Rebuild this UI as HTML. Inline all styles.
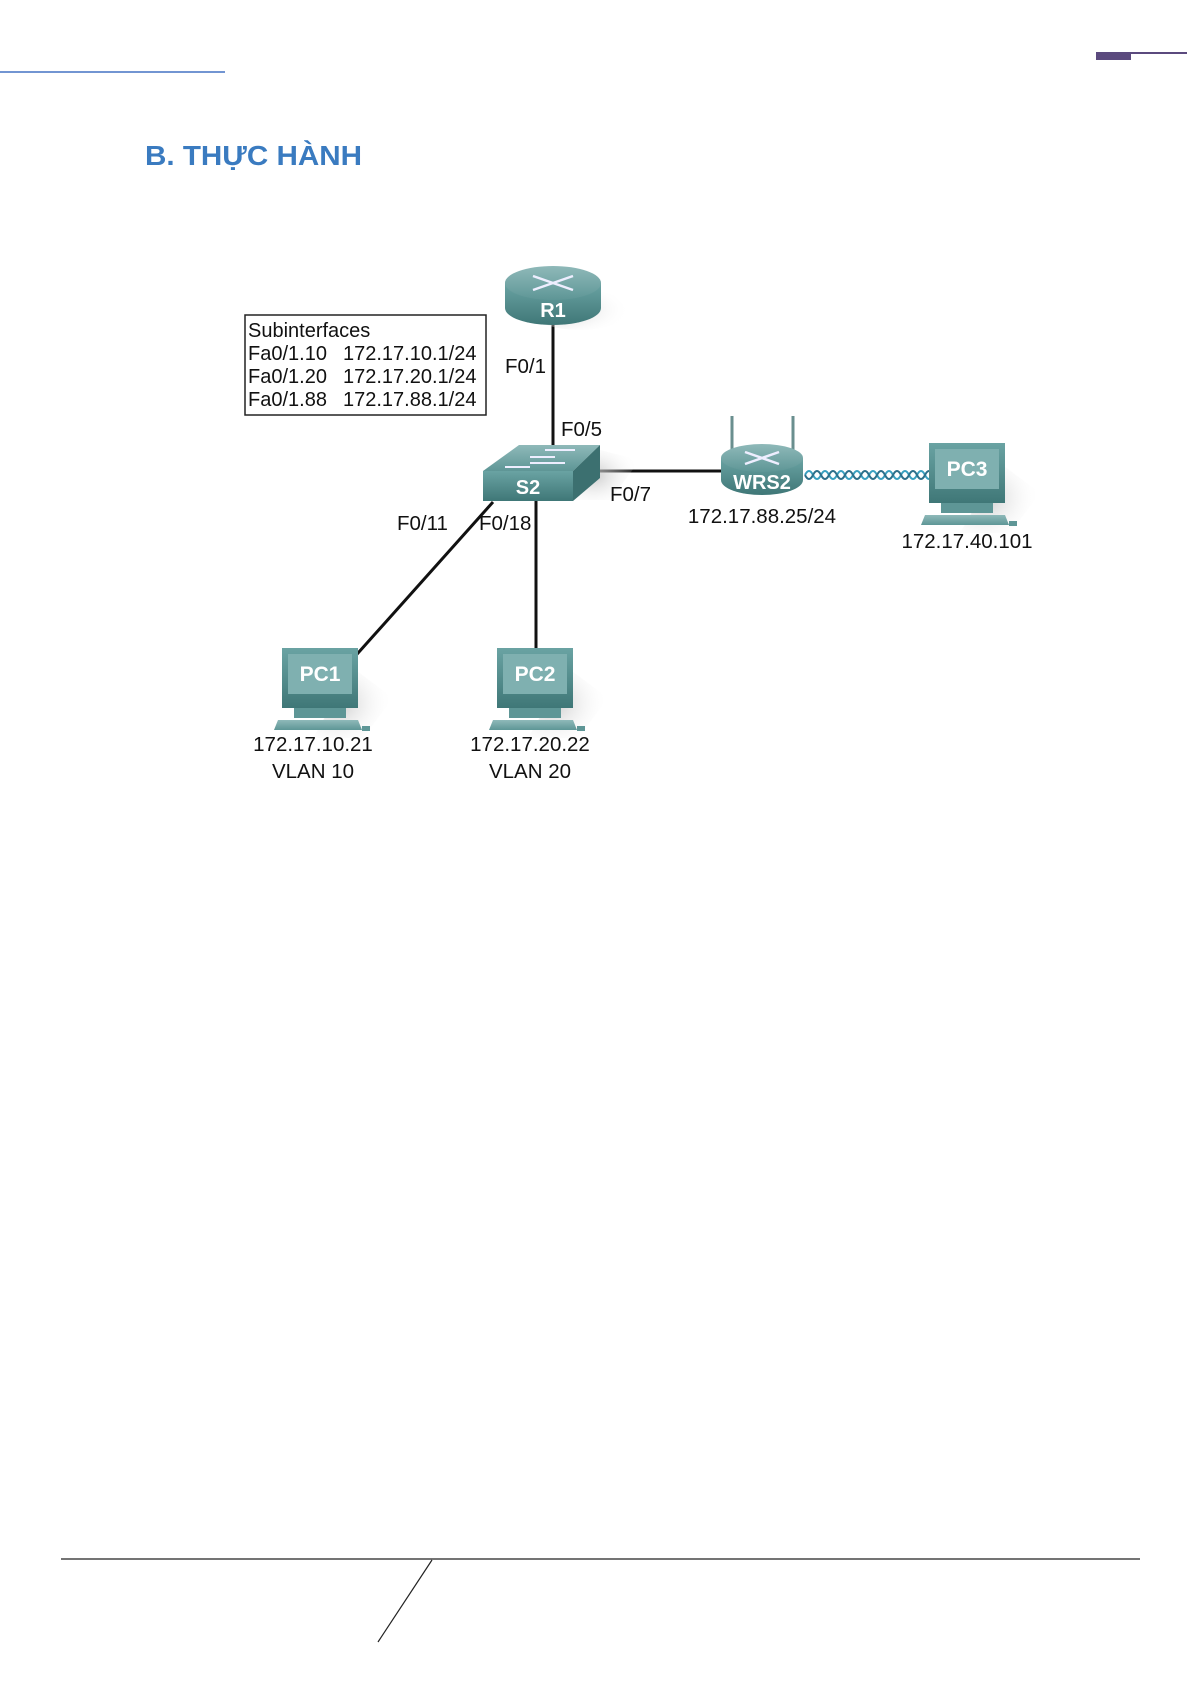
<!DOCTYPE html>
<html><head><meta charset="utf-8"><style>
html,body{margin:0;padding:0;background:#fff}
svg{display:block}
text{font-family:"Liberation Sans",Arial,sans-serif}
</style></head><body>
<svg width="1192" height="1685" viewBox="0 0 1192 1685" xmlns="http://www.w3.org/2000/svg">
<defs>
<linearGradient id="tl" x1="0" y1="0" x2="0" y2="1"><stop offset="0" stop-color="#8fb9b9"/><stop offset="1" stop-color="#5e9696"/></linearGradient>
<linearGradient id="fr" x1="0" y1="0" x2="0" y2="1"><stop offset="0" stop-color="#6aa3a3"/><stop offset="1" stop-color="#3f7777"/></linearGradient>
<radialGradient id="sh" cx="0.3" cy="0.5" r="0.7"><stop offset="0" stop-color="#bbb" stop-opacity="0.8"/><stop offset="1" stop-color="#fff" stop-opacity="0"/></radialGradient>
</defs>
<!-- header -->
<line x1="0" y1="72" x2="225" y2="72" stroke="#4472c4" stroke-width="1.5"/>
<rect x="1096" y="52" width="35" height="8" fill="#5b4a7e"/>
<rect x="1096" y="52" width="91" height="2" fill="#5b4a7e"/>
<text x="145" y="165" font-size="28" font-weight="bold" fill="#3a7bc0" textLength="217" lengthAdjust="spacingAndGlyphs">B.  THỰC HÀNH</text>

<!-- links -->
<g stroke="#111" stroke-width="3" fill="none">
<line x1="553" y1="322" x2="553" y2="450"/>
<line x1="595" y1="471" x2="722" y2="471"/>
<line x1="493" y1="502" x2="350" y2="662"/>
<line x1="536" y1="500" x2="536" y2="650"/>
</g>
<!-- wireless -->
<path d="M805 475 q4 -8 8 0 t8 0 t8 0 t8 0 t8 0 t8 0 t8 0 t8 0 t8 0 t8 0 t8 0 t8 0 t8 0 t8 0 t8 0 t8 0" stroke="#3aa0c0" stroke-width="2" fill="none"/>
<path d="M805 475 q4 8 8 0 t8 0 t8 0 t8 0 t8 0 t8 0 t8 0 t8 0 t8 0 t8 0 t8 0 t8 0 t8 0 t8 0 t8 0 t8 0" stroke="#2d6f8a" stroke-width="2" fill="none"/>

<!-- subinterfaces box -->
<rect x="245" y="315" width="241" height="100" fill="#fff" stroke="#222" stroke-width="1.5"/>
<g font-size="20" fill="#111">
<text x="248" y="337">Subinterfaces</text>
<text x="248" y="360">Fa0/1.10</text><text x="343" y="360">172.17.10.1/24</text>
<text x="248" y="383">Fa0/1.20</text><text x="343" y="383">172.17.20.1/24</text>
<text x="248" y="406">Fa0/1.88</text><text x="343" y="406">172.17.88.1/24</text>
</g>

<!-- R1 -->
<ellipse cx="580" cy="310" rx="50" ry="20" fill="url(#sh)"/>
<path d="M505 283 v25 a48 17 0 0 0 96 0 v-25 z" fill="url(#fr)"/>
<ellipse cx="553" cy="283" rx="48" ry="17" fill="url(#tl)"/>
<g stroke="#eef" stroke-width="2.5"><line x1="533" y1="276" x2="573" y2="290"/><line x1="533" y1="290" x2="573" y2="276"/></g>
<text x="553" y="317" font-size="20" font-weight="bold" fill="#fff" text-anchor="middle">R1</text>

<!-- S2 -->
<path d="M600 450 l40 10 l-30 40 l-37 0 z" fill="url(#sh)"/>
<polygon points="519,445 600,445 573,471 483,471" fill="url(#tl)"/>
<polygon points="573,471 600,445 600,478 573,501" fill="#3c7070"/>
<rect x="483" y="471" width="90" height="30" fill="url(#fr)"/>
<g stroke="#eef" stroke-width="2"><line x1="545" y1="450" x2="575" y2="450"/><line x1="530" y1="457" x2="555" y2="457"/><line x1="530" y1="463" x2="565" y2="463"/><line x1="505" y1="467" x2="530" y2="467"/></g>
<text x="528" y="494" font-size="20" font-weight="bold" fill="#fff" text-anchor="middle">S2</text>

<!-- WRS2 -->
<g stroke="#6a8f8f" stroke-width="3"><line x1="732" y1="416" x2="732" y2="452"/><line x1="793" y1="416" x2="793" y2="452"/></g>
<path d="M721 458 v22 a41 15 0 0 0 82 0 v-22 z" fill="url(#fr)"/>
<ellipse cx="762" cy="458" rx="41" ry="14" fill="url(#tl)"/>
<g stroke="#eef" stroke-width="2.5"><line x1="745" y1="452" x2="779" y2="464"/><line x1="745" y1="464" x2="779" y2="452"/></g>
<text x="762" y="489" font-size="20" font-weight="bold" fill="#fff" text-anchor="middle">WRS2</text>

<!-- PCs -->
<g transform="translate(925,443)">
<path d="M75 20 l40 30 l-30 40 l-50 0 z" fill="url(#sh)"/>
<rect x="4" y="0" width="76" height="60" fill="url(#fr)"/><rect x="10" y="6" width="64" height="40" fill="#7fb0b0"/>
<rect x="16" y="60" width="52" height="10" fill="#5e9696"/><polygon points="0,72 80,72 84,82 -4,82" fill="url(#tl)"/><rect x="84" y="78" width="8" height="5" fill="#5e9696"/>
<text x="42" y="33" font-size="21" font-weight="bold" fill="#fff" text-anchor="middle">PC3</text>
</g>
<g transform="translate(278,648)">
<path d="M75 20 l40 30 l-30 40 l-50 0 z" fill="url(#sh)"/>
<rect x="4" y="0" width="76" height="60" fill="url(#fr)"/><rect x="10" y="6" width="64" height="40" fill="#7fb0b0"/>
<rect x="16" y="60" width="52" height="10" fill="#5e9696"/><polygon points="0,72 80,72 84,82 -4,82" fill="url(#tl)"/><rect x="84" y="78" width="8" height="5" fill="#5e9696"/>
<text x="42" y="33" font-size="21" font-weight="bold" fill="#fff" text-anchor="middle">PC1</text>
</g>
<g transform="translate(493,648)">
<path d="M75 20 l40 30 l-30 40 l-50 0 z" fill="url(#sh)"/>
<rect x="4" y="0" width="76" height="60" fill="url(#fr)"/><rect x="10" y="6" width="64" height="40" fill="#7fb0b0"/>
<rect x="16" y="60" width="52" height="10" fill="#5e9696"/><polygon points="0,72 80,72 84,82 -4,82" fill="url(#tl)"/><rect x="84" y="78" width="8" height="5" fill="#5e9696"/>
<text x="42" y="33" font-size="21" font-weight="bold" fill="#fff" text-anchor="middle">PC2</text>
</g>

<!-- labels -->
<g font-size="20.5" fill="#111">
<text x="505" y="373">F0/1</text>
<text x="561" y="436">F0/5</text>
<text x="610" y="501">F0/7</text>
<text x="397" y="530">F0/11</text>
<text x="479" y="530">F0/18</text>
<text x="762" y="523" text-anchor="middle">172.17.88.25/24</text>
<text x="967" y="548" text-anchor="middle">172.17.40.101</text>
<text x="313" y="751" text-anchor="middle">172.17.10.21</text>
<text x="313" y="778" text-anchor="middle">VLAN 10</text>
<text x="530" y="751" text-anchor="middle">172.17.20.22</text>
<text x="530" y="778" text-anchor="middle">VLAN 20</text>
</g>

<!-- footer -->
<line x1="61" y1="1559" x2="1140" y2="1559" stroke="#222" stroke-width="1.2"/>
<line x1="432" y1="1560" x2="378" y2="1642" stroke="#222" stroke-width="1.2"/>
</svg>
</body></html>
